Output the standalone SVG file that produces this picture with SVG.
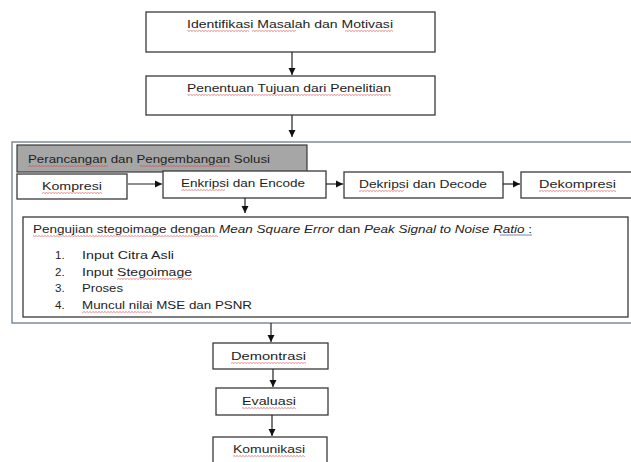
<svg xmlns="http://www.w3.org/2000/svg" width="631" height="462" viewBox="0 0 631 462">
<style>
.box{fill:#fff;stroke:#3a3a3a;stroke-width:1.3}
.t{font-family:"Liberation Sans",Arial,sans-serif;font-size:11.5px;fill:#1e1e1e}
.i{font-style:italic}
.ed{stroke:#222;stroke-width:1.2;fill:none;marker-end:url(#ah)}
</style>
<defs>
<marker id="ah" markerWidth="8" markerHeight="8" refX="7" refY="4" orient="auto" markerUnits="userSpaceOnUse">
<path d="M0,0.5 L7,4 L0,7.5 Z" fill="#111"/>
</marker>
<pattern id="wv" width="3" height="2" patternUnits="userSpaceOnUse">
<path d="M0,1.5 L1.5,0.3 L3,1.5" fill="none" stroke="#d23a3a" stroke-width="0.6"/>
</pattern>
</defs>

<g id="outer">
<rect x="12" y="142" width="625" height="181" fill="#fff" stroke="#7f8c99" stroke-width="1.5"/>
</g>

<g id="n1">
<rect class="box" x="146" y="12" width="289" height="40"/>
<text class="t" x="187" y="28" textLength="206" lengthAdjust="spacingAndGlyphs">Identifikasi Masalah dan Motivasi</text>
<rect x="187" y="30" width="62" height="2" fill="url(#wv)"/>
<rect x="252" y="30" width="44" height="2" fill="url(#wv)"/>
<rect x="345" y="30" width="48" height="2" fill="url(#wv)"/>
</g>

<g id="n2">
<rect class="box" x="146" y="76" width="289" height="39"/>
<text class="t" x="187" y="92" textLength="204" lengthAdjust="spacingAndGlyphs">Penentuan Tujuan dari Penelitian</text>
<rect x="187" y="94" width="204" height="2" fill="url(#wv)"/>
</g>

<g id="n3">
<rect x="17" y="145" width="290" height="27" fill="#a6a6a6" stroke="#3a3a3a" stroke-width="1.2"/>
<text class="t" x="28" y="163" textLength="242" lengthAdjust="spacingAndGlyphs">Perancangan dan Pengembangan Solusi</text>
<rect x="28" y="165" width="80" height="2" fill="url(#wv)"/>
<rect x="140" y="165" width="90" height="2" fill="url(#wv)"/>
</g>

<g id="n4">
<rect class="box" x="17" y="174" width="110" height="25"/>
<text class="t" x="42" y="190" textLength="60" lengthAdjust="spacingAndGlyphs">Kompresi</text>
<rect x="42" y="192" width="60" height="2" fill="url(#wv)"/>
</g>

<g id="n5">
<rect class="box" x="163" y="171" width="163" height="27"/>
<text class="t" x="181" y="187" textLength="124" lengthAdjust="spacingAndGlyphs">Enkripsi dan Encode</text>
<rect x="181" y="189" width="44" height="2" fill="url(#wv)"/>
</g>

<g id="n6">
<rect class="box" x="344" y="172" width="159" height="26"/>
<text class="t" x="359" y="188" textLength="128" lengthAdjust="spacingAndGlyphs">Dekripsi dan Decode</text>
<rect x="359" y="190" width="45" height="2" fill="url(#wv)"/>
</g>

<g id="n7">
<rect class="box" x="521" y="172" width="115" height="26"/>
<text class="t" x="539" y="188" textLength="77" lengthAdjust="spacingAndGlyphs">Dekompresi</text>
<rect x="539" y="190" width="77" height="2" fill="url(#wv)"/>
</g>

<g id="n8">
<rect class="box" x="23" y="217" width="605" height="100"/>
<text class="t" x="33" y="233" textLength="499" lengthAdjust="spacingAndGlyphs">Pengujian stegoimage dengan <tspan class="i">Mean Square Error</tspan> dan <tspan class="i">Peak Signal to Noise</tspan> <tspan class="i">Ratio</tspan> :</text>
<rect x="33" y="235" width="185" height="2" fill="url(#wv)"/>
<rect x="500" y="234" width="32" height="2" fill="#b7c3dc"/>
<text class="t" x="55" y="259">1.</text>
<text class="t" x="82" y="259" textLength="92" lengthAdjust="spacingAndGlyphs">Input Citra Asli</text>
<text class="t" x="55" y="276">2.</text>
<text class="t" x="82" y="276" textLength="110" lengthAdjust="spacingAndGlyphs">Input Stegoimage</text>
<rect x="117" y="278" width="75" height="2" fill="url(#wv)"/>
<text class="t" x="55" y="292">3.</text>
<text class="t" x="82" y="292" textLength="41" lengthAdjust="spacingAndGlyphs">Proses</text>
<text class="t" x="55" y="309">4.</text>
<text class="t" x="82" y="309" textLength="170" lengthAdjust="spacingAndGlyphs">Muncul nilai MSE dan PSNR</text>
<rect x="82" y="311" width="70" height="2" fill="url(#wv)"/>
</g>

<g id="n9">
<rect class="box" x="213" y="343" width="115" height="26"/>
<text class="t" x="231" y="360" textLength="75" lengthAdjust="spacingAndGlyphs">Demontrasi</text>
<rect x="231" y="362" width="75" height="2" fill="url(#wv)"/>
</g>

<g id="n10">
<rect class="box" x="216" y="388" width="112" height="27"/>
<text class="t" x="242" y="405" textLength="54" lengthAdjust="spacingAndGlyphs">Evaluasi</text>
<rect x="242" y="407" width="54" height="2" fill="url(#wv)"/>
</g>

<g id="n11">
<rect class="box" x="213" y="437" width="114" height="30"/>
<text class="t" x="233" y="453" textLength="72" lengthAdjust="spacingAndGlyphs">Komunikasi</text>
<rect x="233" y="455" width="72" height="2" fill="url(#wv)"/>
</g>

<g id="connectors">
<line class="ed" x1="292" y1="52" x2="292" y2="75"/>
<line class="ed" x1="292" y1="115" x2="292" y2="137"/>
<line class="ed" x1="128" y1="184" x2="162" y2="184"/>
<line class="ed" x1="326" y1="184" x2="343" y2="184"/>
<line class="ed" x1="503" y1="184" x2="520" y2="184"/>
<line class="ed" x1="245" y1="198" x2="245" y2="213"/>
<line class="ed" x1="271" y1="323" x2="271" y2="342"/>
<line class="ed" x1="273" y1="369" x2="273" y2="387"/>
<line class="ed" x1="272" y1="415" x2="272" y2="436"/>
</g>
</svg>
